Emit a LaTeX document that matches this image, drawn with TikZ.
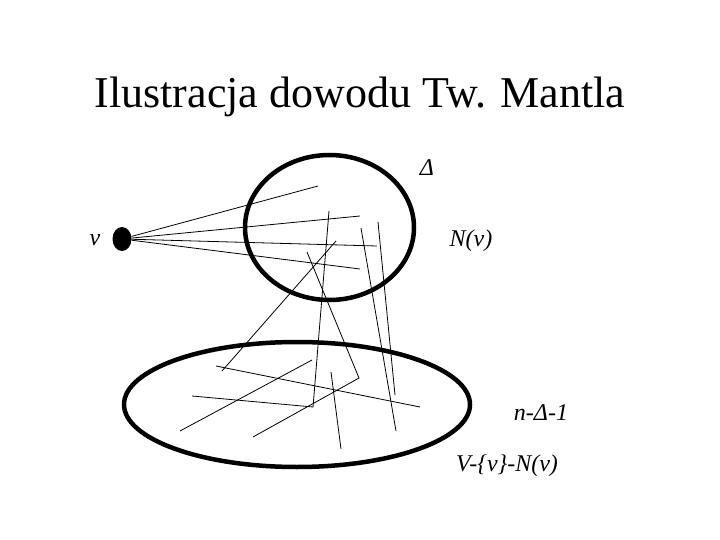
\documentclass[tikz,border=0pt]{standalone}
\usepackage{fontspec}
\setmainfont{Liberation Serif}
\usetikzlibrary{shapes.geometric}

\begin{document}
\begin{tikzpicture}[x=1pt,y=-1pt,
  setbox/.style={draw,ellipse,line width=4.5pt,inner sep=0pt},
  vertex/.style={fill,ellipse,inner sep=0pt,minimum width=19pt,minimum height=24pt},
  edge/.style={line width=0.8pt},
  lbl/.style={font=\fontsize{24}{24}\selectfont\itshape,inner sep=0pt}]
  \useasboundingbox (0,0) rectangle (720,540);
  \node[font=\fontsize{44}{44}\selectfont] (title) at (360,97) {Ilustracja dowodu Tw. Mantla};
  \node[setbox,minimum width=169pt,minimum height=145pt] (nbhd) at (329.5,227.5) {};
  \node[setbox,minimum width=346pt,minimum height=125pt] (rest) at (297,404.5) {};
  \node[vertex] (v) at (122,239) {};
  \node[lbl] (vlab) at (95,240) {v};
  \node[lbl] (deltalab) at (427,168) {Δ};
  \node[lbl] (nvlab) at (471,241) {N(v)};
  \node[lbl] (sizelab) at (541,413) {n-Δ-1};
  \node[lbl] (restlab) at (507,466) {V-\{v\}-N(v)};
  % end points of the edges
  \coordinate (n1) at (318,186); \coordinate (n2) at (360,216);
  \coordinate (n3) at (377,246); \coordinate (n4) at (360,269);
  \coordinate (a1) at (329,211); \coordinate (a2) at (313,407); \coordinate (a3) at (192,396);
  \coordinate (b1) at (307,252); \coordinate (b2) at (359,378); \coordinate (b3) at (253,437);
  \coordinate (c1) at (336,241); \coordinate (c2) at (222,371);
  \coordinate (d1) at (361,228); \coordinate (d2) at (396,431);
  \coordinate (e1) at (378,222); \coordinate (e2) at (395,395);
  \coordinate (f1) at (216,366); \coordinate (f2) at (420,407);
  \coordinate (g1) at (180,431); \coordinate (g2) at (312,360);
  \coordinate (h1) at (331,372); \coordinate (h2) at (341,449);
  \draw[edge] (v)--(n1); \draw[edge] (v)--(n2); \draw[edge] (v)--(n3); \draw[edge] (v)--(n4);
  \draw[edge] (a1)--(a2)--(a3); \draw[edge] (b1)--(b2)--(b3);
  \draw[edge] (c1)--(c2); \draw[edge] (d1)--(d2); \draw[edge] (e1)--(e2);
  \draw[edge] (f1)--(f2); \draw[edge] (g1)--(g2); \draw[edge] (h1)--(h2);
\end{tikzpicture}
\end{document}
